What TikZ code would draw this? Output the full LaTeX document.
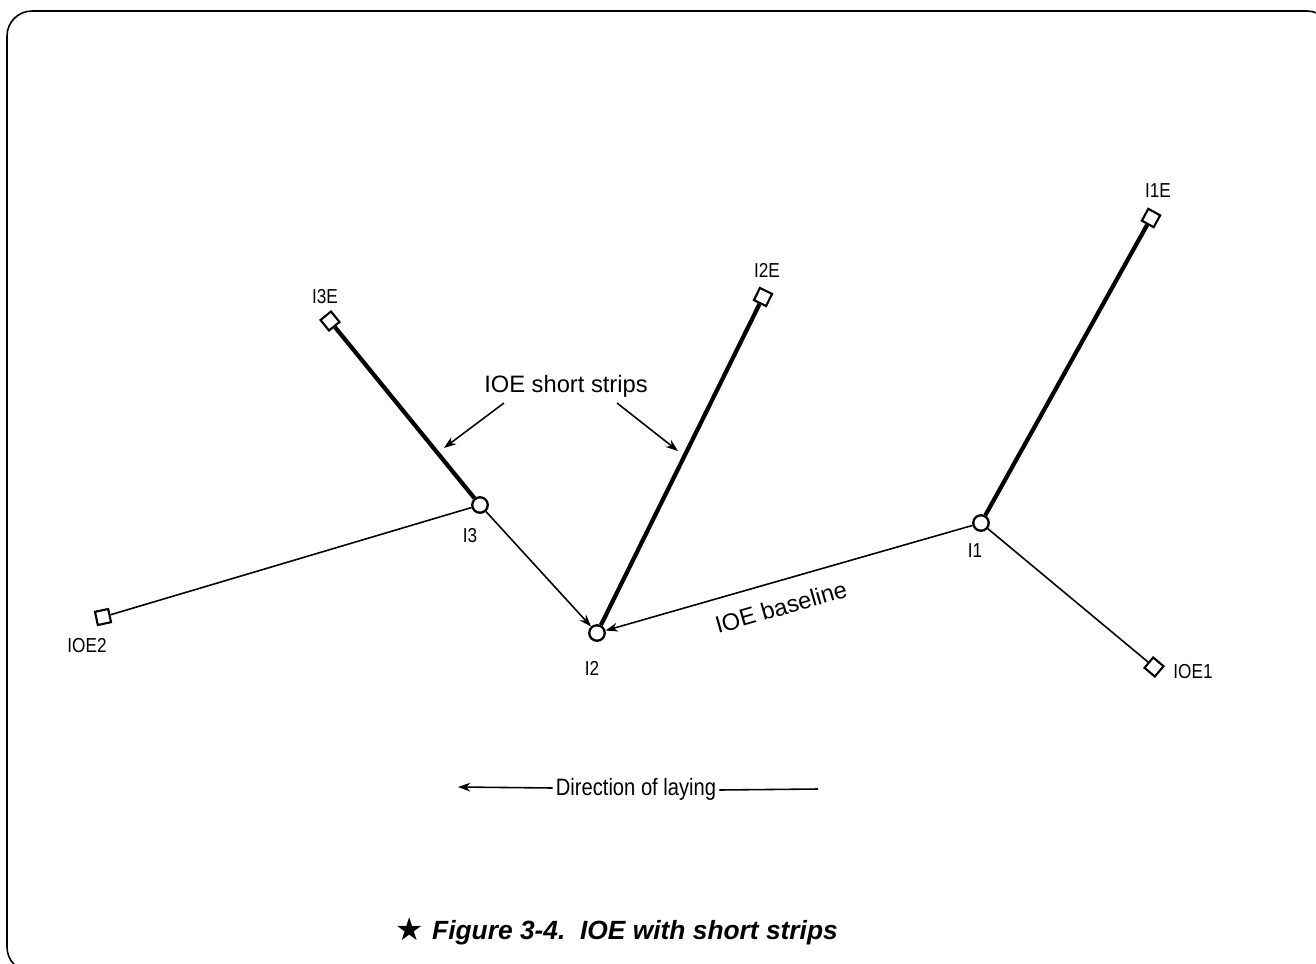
\documentclass[tikz,border=0pt]{standalone}
\usepackage{fontspec}
\setmainfont{Liberation Sans}
\newfontfamily\condfont[FakeStretch=0.85]{Liberation Sans}
\newfontfamily\symfont{DejaVu Sans}
\usetikzlibrary{arrows.meta}
\begin{document}
\begin{tikzpicture}[x=0.02cm,y=-0.02cm,
  station/.style={circle,draw,line width=1.3pt,fill=white,inner sep=0pt,minimum size=0.31cm},
  endsq/.style={rectangle,draw,line width=1.2pt,fill=white,inner sep=0pt,minimum size=0.27cm},
  lbl/.style={font=\condfont\fontsize{11.5}{13}\selectfont,inner sep=0pt},
  thin/.style={line width=0.9pt},
  strip/.style={line width=2.4pt},
  arr/.style={-{Stealth[length=7pt,width=5pt]},line width=0.9pt},
  frame/.style={line width=0.9pt,rounded corners=0.5cm}]
\useasboundingbox (0,0) rectangle (1316,964);
\begin{scope}
\clip (0,0) rectangle (1316,964);
\draw[frame] (7,11) rectangle (1332,972);
\end{scope}
% stations
\node[station] (I3) at (480,505) {};
\node[station] (I2) at (597,633) {};
\node[station] (I1) at (981,523) {};
% end points
\node[endsq,rotate=39] (I3E) at (330,321) {};
\node[endsq,rotate=64] (I2E) at (763,297) {};
\node[endsq,rotate=61] (I1E) at (1151,218) {};
\node[endsq,rotate=12] (IOE2) at (103,617) {};
\node[endsq,rotate=50] (IOE1) at (1154,667) {};
% connectors
\draw[strip] (I3E) -- (I3);
\draw[strip] (I2) -- (I2E);
\draw[strip] (I1) -- (I1E);
\draw[thin] (I3) -- (IOE2);
\draw[thin] (I1) -- (IOE1);
\draw[arr] (I3) -- (I2);
\draw[arr] (I1) -- (I2);
% labels
\node[lbl] (tI3E) at (325,297) {I3E};
\node[lbl] (tI2E) at (767,270) {I2E};
\node[lbl] (tI1E) at (1158,191) {I1E};
\node[lbl] (tI3) at (470,536) {I3};
\node[lbl] (tI2) at (592,668) {I2};
\node[lbl] (tI1) at (975,551) {I1};
\node[lbl] (tIOE2) at (87,646) {IOE2};
\node[lbl] (tIOE1) at (1193,672) {IOE1};
% short strips annotation
\node[font=\fontsize{13.5}{15}\selectfont,inner sep=0pt] (ss) at (566,386) {IOE short strips};
\coordinate (ssL1) at (504,403);
\coordinate (ssL2) at (444,448);
\coordinate (ssR1) at (617,403);
\coordinate (ssR2) at (678,451);
\draw[arr] (ssL1) -- (ssL2);
\draw[arr] (ssR1) -- (ssR2);
% baseline label
\node[font=\fontsize{13.5}{15}\selectfont,inner sep=0pt,rotate=16] (bl) at (781,607) {IOE baseline};
% direction of laying
\node[font=\condfont\fontsize{13.5}{15}\selectfont,inner sep=0pt] (dir) at (636,789) {Direction of laying};
\coordinate (dL) at (458,787);
\coordinate (dR) at (818,789);
\draw[arr] (dir.west) ++(-3,-1) coordinate (dW) -- (dL);
\draw[thin] (dir.east) ++(3,1) coordinate (dE) -- (dR);
% caption
\node[font=\fontsize{15}{17}\selectfont\bfseries\itshape,inner sep=0pt] (cap) at (635,933) {Figure 3-4.\ \ IOE with short strips};
\node[font=\symfont\fontsize{18}{19}\selectfont,inner sep=0pt] (star) at (410,929) {★};
\end{tikzpicture}
\end{document}
